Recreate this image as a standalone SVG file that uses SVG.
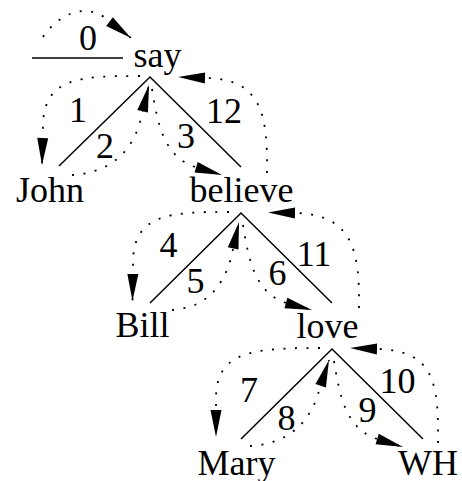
<svg xmlns="http://www.w3.org/2000/svg" width="462" height="481" viewBox="0 0 462 481">
<defs>
<marker id="ah" markerUnits="userSpaceOnUse" markerWidth="28" markerHeight="12" refX="27" refY="5.5" orient="auto" overflow="visible">
<path d="M0 0 L27 5.5 L0 11 Z" fill="#000"/>
</marker>
</defs>
<style>
text{font-family:'Liberation Serif','Times New Roman',serif;font-size:36px;fill:#000;text-anchor:middle}
.br{fill:none;stroke:#000;stroke-width:1.5}
.dot{fill:none;stroke:#000;stroke-width:1.8;stroke-dasharray:2 9.5;marker-end:url(#ah)}
</style>
<rect width="462" height="481" fill="#fff"/>
<g id="connectors">
<line class="br" x1="32" y1="58" x2="123" y2="58"/>
<path class="dot" d="M43 37 C58 14 88 0 110 22 L131 38"/>
<g transform="translate(150,77)">
<path class="br" d="M-91 89 L0 0 L91 90"/>
<path class="dot" d="M-10 -1 C-70 -1 -107 0 -107 50 L-108 88"/>
<path class="dot" d="M-78 98 C-45 96 -20 80 -10 45 L-1 8"/>
<path class="dot" d="M2 12 C8 50 15 80 45 90 L72 98"/>
<path class="dot" d="M117 96 C118 35 110 3 58 1 L28 0"/>
</g>
<g transform="translate(241,213)">
<path class="br" d="M-91 90 L0 0 L91 90"/>
<path class="dot" d="M-12 -1 C-70 -1 -108 0 -108 50 L-108.5 88"/>
<path class="dot" d="M-69 97 C-40 95 -20 80 -10 45 L-2 9"/>
<path class="dot" d="M2 12 C8 50 15 80 45 90 L71 97"/>
<path class="dot" d="M118 95 C119 35 110 3 57 0 L27 -0.5"/>
</g>
<g transform="translate(332,349)">
<path class="br" d="M-91 90 L0 0 L91 90"/>
<path class="dot" d="M-12 -1 C-80 -1 -116 2 -116 50 L-116 88"/>
<path class="dot" d="M-82 97 C-50 95 -25 80 -14 45 L-3 11"/>
<path class="dot" d="M2 12 C8 50 15 80 45 90 L71 98"/>
<path class="dot" d="M106 94 C107 30 100 3 48 0 L18 -1"/>
</g>
</g>
<g id="say"><text x="157.5" y="67">say</text></g>
<g id="John"><text x="50" y="202">John</text></g>
<g id="believe"><text x="241.5" y="202">believe</text></g>
<g id="Bill"><text x="142.5" y="337">Bill</text></g>
<g id="love"><text x="327.5" y="338">love</text></g>
<g id="Mary"><text x="236.5" y="475">Mary</text></g>
<g id="WH"><text x="428" y="475">WH</text></g>
<g id="labels">
<text x="88" y="50">0</text>
<text x="78" y="122">1</text>
<text x="105" y="158">2</text>
<text x="186" y="148">3</text>
<text x="224" y="123">12</text>
<text x="168.5" y="257">4</text>
<text x="195.5" y="293">5</text>
<text x="277.5" y="285">6</text>
<text x="314" y="266">11</text>
<text x="249" y="402">7</text>
<text x="286.5" y="430">8</text>
<text x="367.5" y="422">9</text>
<text x="397.5" y="393">10</text>
</g>
</svg>
